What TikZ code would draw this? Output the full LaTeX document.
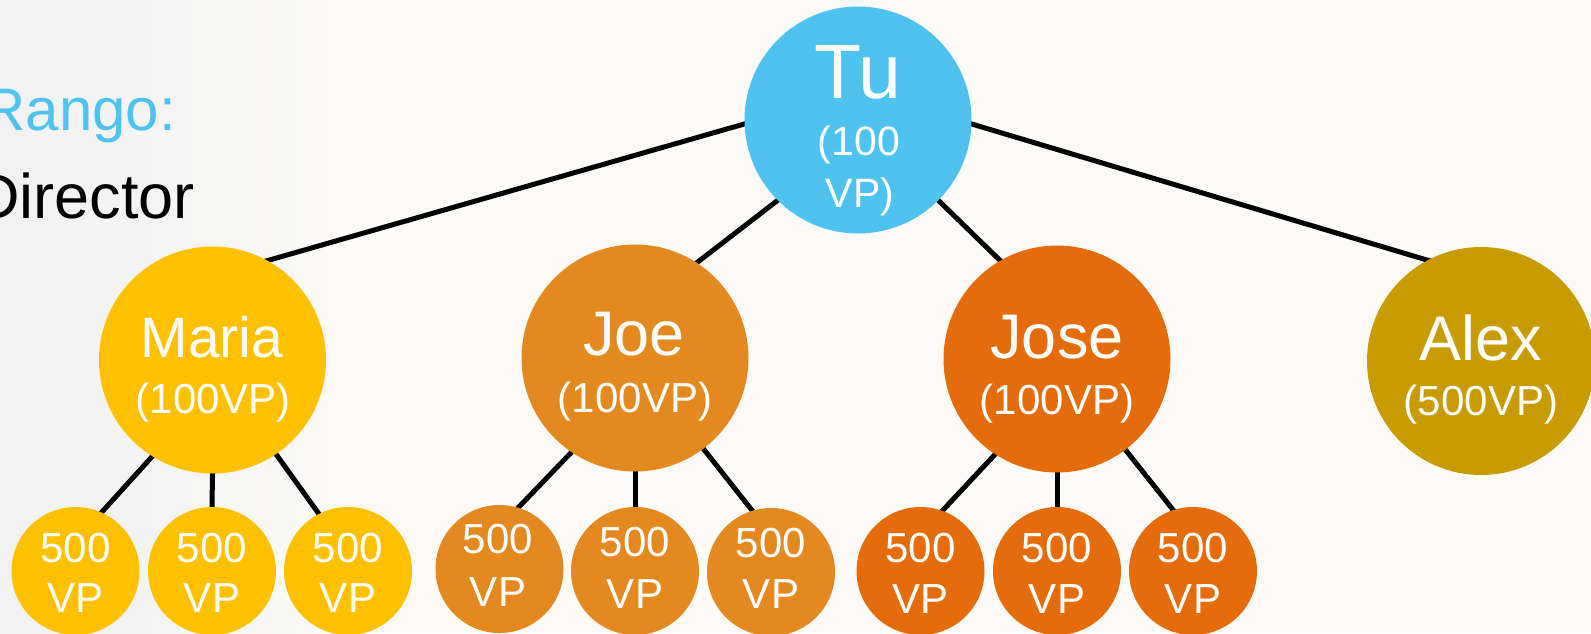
\documentclass[tikz,border=0pt]{standalone}
\usepackage{fontspec}
\setmainfont{Liberation Sans}
\definecolor{bg}{HTML}{FCFBF8}
\definecolor{bggray}{HTML}{F2F2F3}
\definecolor{tublue}{HTML}{4FC3F0}
\definecolor{mariac}{HTML}{FFC000}
\definecolor{joec}{HTML}{E3891F}
\definecolor{josec}{HTML}{E46C0A}
\definecolor{alexc}{HTML}{C89B00}
\pgfdeclarelayer{bgfill}
\pgfdeclarelayer{edges}
\pgfsetlayers{bgfill,edges,main}
\tikzset{
  bignode/.style={circle, minimum size=227pt, inner sep=0pt, fill=#1},
  smallnode/.style={circle, minimum size=128pt, inner sep=0pt, fill=#1},
  lbl/.style={text=white, inner sep=0pt, anchor=base},
  namefont/.style={font=\fontsize{63}{63}\selectfont},
  vpfont/.style={font=\fontsize{42}{42}\selectfont},
  smallfont/.style={font=\fontsize{42}{42}\selectfont},
  link/.style={line width=5pt, black, shorten <=-8pt, shorten >=-8pt}
}
\begin{document}
\begin{tikzpicture}[x=1pt,y=-1pt]
\useasboundingbox (0,0) rectangle (1591,633);
\clip (0,0) rectangle (1591,633);
\begin{pgfonlayer}{bgfill}
\fill[bg] (0,0) rectangle (1591,633);
\shade[left color=bggray, right color=bg, middle color=bggray!70!bg] (0,0) rectangle (340,633);
\end{pgfonlayer}

% text at left
\node[text=tublue, inner sep=0pt, anchor=base east, font=\fontsize{60}{60}\selectfont] (rango) at (176,130) {Rango:};
\node[text=black, inner sep=0pt, anchor=base east, font=\fontsize{63}{63}\selectfont] (director) at (195,218) {Director};

% big circles
\node[bignode=tublue] (tu) at (858,120) {};
\node[bignode=mariac] (maria) at (212.5,360) {};
\node[bignode=joec] (joe) at (635,358) {};
\node[bignode=josec] (jose) at (1057,359) {};
\node[bignode=alexc, minimum size=228pt] (alex) at (1481,361) {};

% small circles
\node[smallnode=mariac] (m1) at (75.5,571) {};
\node[smallnode=mariac] (m2) at (212,571) {};
\node[smallnode=mariac] (m3) at (348,571) {};
\node[smallnode=joec] (j1) at (499.5,569) {};
\node[smallnode=joec] (j2) at (635,571) {};
\node[smallnode=joec] (j3) at (771,572) {};
\node[smallnode=josec] (s1) at (920.5,571) {};
\node[smallnode=josec] (s2) at (1057,571) {};
\node[smallnode=josec] (s3) at (1193,571) {};

% labels of big circles
\node[lbl, font=\fontsize{77}{77}\selectfont] (tua) at (858,98) {Tu};
\node[lbl, font=\fontsize{41}{41}\selectfont] (tub) at (859,155) {(100};
\node[lbl, font=\fontsize{41}{41}\selectfont] (tuc) at (860,207) {VP)};
\node[lbl, font=\fontsize{57}{57}\selectfont] (mariaa) at (212,357) {Maria};
\node[lbl, vpfont] (mariab) at (213,413) {(100VP)};
\node[lbl, namefont] (joea) at (634,355) {Joe};
\node[lbl, vpfont] (joeb) at (635,412) {(100VP)};
\node[lbl, namefont] (josea) at (1057,358) {Jose};
\node[lbl, vpfont] (joseb) at (1057,414) {(100VP)};
\node[lbl, namefont] (alexa) at (1481,360) {Alex};
\node[lbl, vpfont] (alexb) at (1481,415) {(500VP)};

% labels of small circles
\foreach \n/\x/\ya/\yb in {m1a/75.5/562/612, m2a/212/562/612, m3a/348/562/612,
    j1a/498/553/606, j2a/635/556/608, j3a/771/557/608,
    s1a/920.5/562/613, s2a/1057/562/613, s3a/1193/562/613}{
  \node[lbl, smallfont] (\n-top) at (\x,\ya) {500};
  \node[lbl, smallfont] (\n-bot) at (\x,\yb) {VP};
}

% connectors
\begin{pgfonlayer}{edges}
\draw[link] (tu.182.5) -- (maria.61);
\draw[link] (tu.225) -- (joe.57);
\draw[link] (tu.-45) -- (jose.120);
\draw[link] (tu.-2.5) -- (alex.118);
\draw[link] (maria.238.7) -- (m1.66);
\draw[link] (maria.-90) -- (m2.90);
\draw[link] (maria.-56.7) -- (m3.117);
\draw[link] (joe.236) -- (j1.73);
\draw[link] (joe.-90) -- (j2.90);
\draw[link] (joe.-53) -- (j3.107);
\draw[link] (jose.237) -- (s1.70);
\draw[link] (jose.-90) -- (s2.90);
\draw[link] (jose.-53) -- (s3.108);
\end{pgfonlayer}
\end{tikzpicture}
\end{document}
